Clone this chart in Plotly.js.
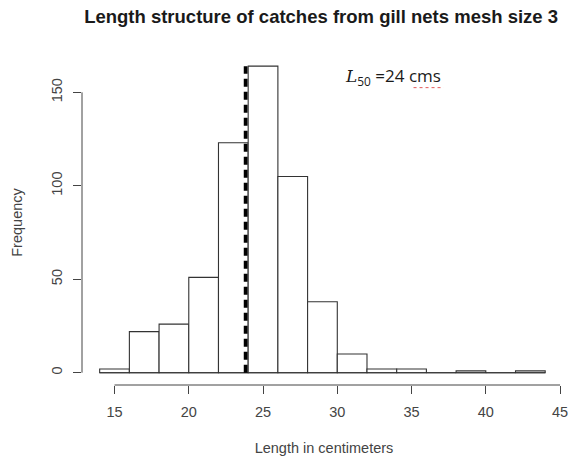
<!DOCTYPE html>
<html>
<head>
<meta charset="utf-8">
<script src="https://cdn.plot.ly/plotly-3.0.1.min.js"></script>
<style>html,body{margin:0;padding:0;background:#fff;}#chart{width:569px;height:460px;}</style>
</head>
<body>
<div id="chart"></div>
<script>
// Histogram bins (2 cm wide) and counts
var binEdges = [14,16,18,20,22,24,26,28,30,32,34,36,38,40,42,44];
var counts   = [2,22,26,51,123,164,105,38,10,2,2,0,1,0,1];
var l50Line  = 23.83;
var l50Top   = 164;
var xTicks   = [15,20,25,30,35,40,45];
var yTicks   = [0,50,100,150];

var centers = [], widths = [];
for (var i = 0; i < counts.length; i++) {
  centers.push((binEdges[i] + binEdges[i+1]) / 2);
  widths.push(binEdges[i+1] - binEdges[i]);
}

var bars = {
  type: 'bar', x: centers, y: counts, width: widths,
  marker: {color: '#ffffff', line: {color: '#333333', width: 1.1}},
  hoverinfo: 'none'
};
var baseline = {
  type: 'scatter', mode: 'lines',
  x: [binEdges[0], binEdges[binEdges.length-1]], y: [0, 0],
  line: {color: '#333333', width: 1.1}, hoverinfo: 'none'
};
var l50 = {
  type: 'scatter', mode: 'lines',
  x: [l50Line, l50Line], y: [0, l50Top],
  line: {color: '#000000', width: 3.8, dash: '8px,5px'}, hoverinfo: 'none'
};

var layout = {
  width: 569, height: 460,
  margin: {l: 82, r: 3, t: 60, b: 75},
  paper_bgcolor: '#fff', plot_bgcolor: '#fff',
  showlegend: false,
  bargap: 0,
  font: {family: 'Liberation Sans, Arial, sans-serif', color: '#333'},
  title: {
    text: '<b>Length structure of catches from gill nets mesh size 3</b>',
    font: {size: 18.5, color: '#1a1a1a', family: 'Liberation Sans, Arial, sans-serif'},
    x: 0.494, xref: 'paper', xanchor: 'center',
    y: 0.963, yref: 'container', yanchor: 'middle'
  },
  xaxis: {
    range: [12.81, 45.40], showgrid: false, zeroline: false, showline: false,
    tickmode: 'array', tickvals: xTicks, ticktext: xTicks.map(String),
    ticks: 'outside', ticklen: 8, tickcolor: '#444', tickwidth: 1,
    ticklabelstandoff: 6,
    tickfont: {size: 14.5, color: '#444'},
    title: {text: 'Length in centimeters', font: {size: 14.5, color: '#444'}, standoff: 23},
    fixedrange: true
  },
  yaxis: {
    range: [-6.58, 167.3], showgrid: false, zeroline: false, showline: false,
    tickmode: 'array', tickvals: yTicks, ticktext: yTicks.map(String),
    ticks: 'outside', ticklen: 8, tickcolor: '#444', tickwidth: 1,
    tickangle: -90, ticklabelstandoff: 5,
    tickfont: {size: 14.5, color: '#444'},
    title: {text: 'Frequency', font: {size: 14.5, color: '#444'}, standoff: 23},
    fixedrange: true
  },
  shapes: [
    {type: 'line', xref: 'x', yref: 'paper', x0: xTicks[0], x1: xTicks[xTicks.length-1], y0: 0, y1: 0,
     line: {color: '#444', width: 1}},
    {type: 'line', xref: 'paper', yref: 'y', x0: 0, x1: 0, y0: yTicks[0], y1: yTicks[yTicks.length-1],
     line: {color: '#444', width: 1}},
    {type: 'line', xref: 'paper', yref: 'paper', x0: 0.685, x1: 0.747, y0: 0.915, y1: 0.915,
     line: {color: 'rgba(220,60,60,0.85)', width: 1, dash: 'dot'}}
  ],
  annotations: [{
    xref: 'paper', yref: 'paper', x: 0.539, y: 0.948, xanchor: 'left', yanchor: 'middle',
    showarrow: false,
    text: '<span style="font-family:DejaVu Serif, Liberation Serif, serif"><i>L</i></span><sub>50</sub> =24 cms',
    font: {size: 17, color: '#1a1a1a', family: 'Open Sans, Liberation Sans, sans-serif'}
  }]
};

Plotly.newPlot('chart', [bars, baseline, l50], layout, {displayModeBar: false, staticPlot: true});
</script>
</body>
</html>
